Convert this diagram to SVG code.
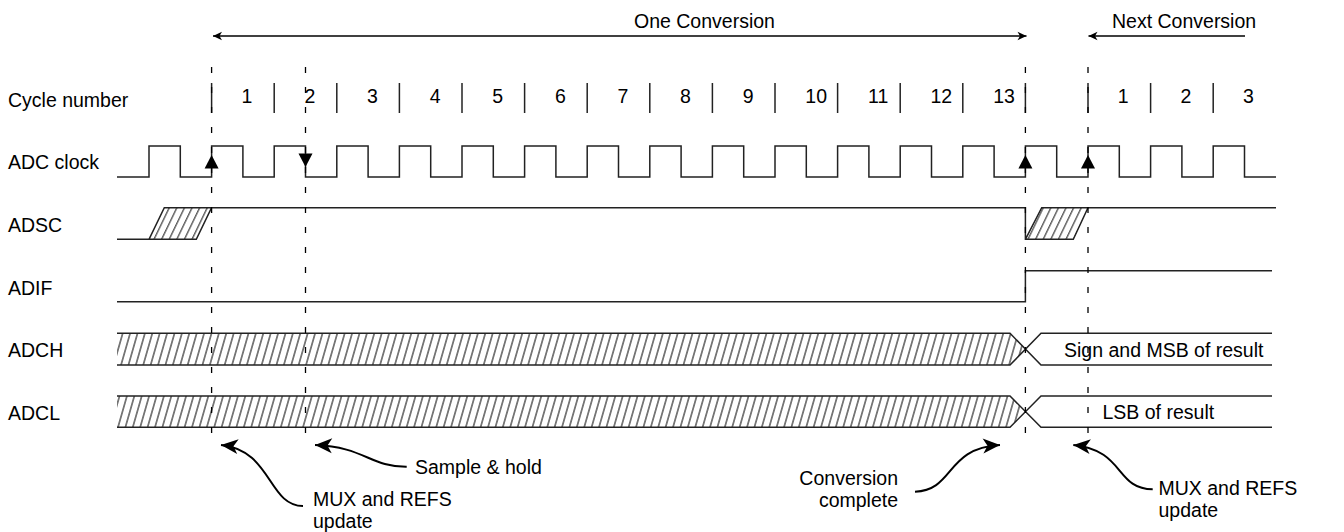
<svg xmlns="http://www.w3.org/2000/svg" width="1344" height="532" viewBox="0 0 1344 532">
<style>
text{font-family:"Liberation Sans",Arial,sans-serif;font-size:19.5px;fill:#000}
.w{fill:none;stroke:#222;stroke-width:1.5}
.sep{stroke:#222;stroke-width:1.5}
.dash{stroke:#000;stroke-width:1.3;stroke-dasharray:6 14;fill:none}
.arr{fill:none;stroke:#000;stroke-width:1.3}
.carr{fill:none;stroke:#000;stroke-width:2}
.tri{fill:#000}
</style>
<defs>
<marker id="sa" markerUnits="userSpaceOnUse" markerWidth="12" markerHeight="12" viewBox="-10 -6 12 12" refX="0" refY="0" orient="auto-start-reverse">
<path d="M0,0 L-9,-4.2 L-6.5,0 L-9,4.2 Z" fill="#000"/>
</marker>
<marker id="ba" markerUnits="userSpaceOnUse" markerWidth="22" markerHeight="22" viewBox="-19 -10 22 20" refX="0" refY="0" orient="auto">
<path d="M0,0 L-17,-7.5 L-12.5,0 L-17,7.5 Z" fill="#000"/>
</marker>
<pattern id="hb" patternUnits="userSpaceOnUse" width="7.4" height="10" patternTransform="skewX(-16)">
<rect x="3.2" y="0" width="1" height="10" fill="#000"/>
</pattern>
<pattern id="hp" patternUnits="userSpaceOnUse" width="7.6" height="10" patternTransform="skewX(-25.8)">
<rect x="3.2" y="0" width="1" height="10" fill="#000"/>
</pattern>
</defs>

<g id="labels">
<text x="8" y="107.3">Cycle number</text>
<text x="8" y="169.3">ADC clock</text>
<text x="8" y="232.3">ADSC</text>
<text x="8" y="295">ADIF</text>
<text x="8" y="357.3">ADCH</text>
<text x="8" y="420">ADCL</text>
</g>

<g id="conversion-span">
<line class="arr" x1="213" y1="36" x2="1026.5" y2="36" marker-start="url(#sa)" marker-end="url(#sa)"/>
<text x="634" y="28">One Conversion</text>
<line class="arr" x1="1245" y1="36" x2="1088.5" y2="36" marker-end="url(#sa)"/>
<text x="1112" y="28">Next Conversion</text>
</g>

<g id="cycle-numbers">
<g class="sep">
<line x1="211.6" y1="83" x2="211.6" y2="113"/>
<line x1="274.2" y1="83" x2="274.2" y2="113"/>
<line x1="336.8" y1="83" x2="336.8" y2="113"/>
<line x1="399.4" y1="83" x2="399.4" y2="113"/>
<line x1="462" y1="83" x2="462" y2="113"/>
<line x1="524.6" y1="83" x2="524.6" y2="113"/>
<line x1="587.2" y1="83" x2="587.2" y2="113"/>
<line x1="649.8" y1="83" x2="649.8" y2="113"/>
<line x1="712.4" y1="83" x2="712.4" y2="113"/>
<line x1="775" y1="83" x2="775" y2="113"/>
<line x1="837.6" y1="83" x2="837.6" y2="113"/>
<line x1="900.2" y1="83" x2="900.2" y2="113"/>
<line x1="962.8" y1="83" x2="962.8" y2="113"/>
<line x1="1025.4" y1="83" x2="1025.4" y2="113"/>
<line x1="1088" y1="83" x2="1088" y2="113"/>
<line x1="1150.6" y1="83" x2="1150.6" y2="113"/>
<line x1="1213.2" y1="83" x2="1213.2" y2="113"/>
</g>
<text x="241.5" y="103">1</text>
<text x="304.5" y="103">2</text>
<text x="367" y="103">3</text>
<text x="429.7" y="103">4</text>
<text x="492.3" y="103">5</text>
<text x="555" y="103">6</text>
<text x="617.5" y="103">7</text>
<text x="680" y="103">8</text>
<text x="742.7" y="103">9</text>
<text x="805.3" y="103">10</text>
<text x="868" y="103">11</text>
<text x="930.5" y="103">12</text>
<text x="993.2" y="103">13</text>
<text x="1117.8" y="103">1</text>
<text x="1180.5" y="103">2</text>
<text x="1243" y="103">3</text>
</g>

<g id="adc-clock">
<path class="w" d="M117,177 H149 V146 H180.3 V177 H211.6 V146 H242.9 V177 H274.2 V146 H305.5 V177 H336.8 V146 H368.1 V177 H399.4 V146 H430.7 V177 H462 V146 H493.3 V177 H524.6 V146 H555.9 V177 H587.2 V146 H618.5 V177 H649.8 V146 H681.1 V177 H712.4 V146 H743.7 V177 H775 V146 H806.3 V177 H837.6 V146 H868.9 V177 H900.2 V146 H931.5 V177 H962.8 V146 H994.1 V177 H1025.4 V146 H1056.7 V177 H1088 V146 H1119.3 V177 H1150.6 V146 H1181.9 V177 H1213.2 V146 H1244.5 V177 H1276"/>
<polygon class="tri" points="211.6,155 204.6,168.5 218.6,168.5"/>
<polygon class="tri" points="298.5,153.5 312.5,153.5 305.5,167"/>
<polygon class="tri" points="1025.4,155 1018.4,168.5 1032.4,168.5"/>
<polygon class="tri" points="1088,155 1081,168.5 1095,168.5"/>
</g>

<g id="adsc">
<polygon points="149,239.3 164.3,207.7 211.6,207.7 196.3,239.3" fill="url(#hp)"/>
<polygon points="1025.4,239.3 1041.7,207.7 1088,207.7 1073.3,239.3" fill="url(#hp)"/>
<path class="w" d="M117,239.3 H196.3 L211.6,207.7 M149,239.3 L164.3,207.7 H1025.4 V239.3 H1073.3 L1088,207.7 H1276 M1025.4,239.3 L1041.7,207.7 H1088"/>
</g>

<g id="adif">
<path class="w" d="M117,301.7 H1025.4 V270.7 H1272"/>
</g>

<g id="adch">
<polygon points="117,333.3 1010,333.3 1025.5,349.2 1010,365 117,365" fill="url(#hb)"/>
<path class="w" d="M117,333.3 H1010 L1041,365 H1272 M117,365 H1010 L1041,333.3 H1272"/>
<text x="1064" y="357">Sign and MSB of result</text>
</g>

<g id="adcl">
<polygon points="117,396 1010,396 1025.5,411.7 1010,427.3 117,427.3" fill="url(#hb)"/>
<path class="w" d="M117,396 H1010 L1041,427.3 H1272 M117,427.3 H1010 L1041,396 H1272"/>
<text x="1102.5" y="419.3">LSB of result</text>
</g>

<g id="guides">
<line class="dash" x1="211.6" y1="67" x2="211.6" y2="434"/>
<line class="dash" x1="305.5" y1="67" x2="305.5" y2="434"/>
<line class="dash" x1="1025.4" y1="67" x2="1025.4" y2="434"/>
<line class="dash" x1="1088" y1="67" x2="1088" y2="434"/>
</g>

<g id="connectors">
<path class="carr" d="M303,506 C268,506 272,450 221,445" marker-end="url(#ba)"/>
<path class="carr" d="M406.7,466.7 C370,467 365,447 315,445" marker-end="url(#ba)"/>
<path class="carr" d="M915,491.7 C955,490 945,448 1000,445" marker-end="url(#ba)"/>
<path class="carr" d="M1152.7,489.3 C1115,489 1125,450 1073.3,445" marker-end="url(#ba)"/>
</g>

<g id="annotations">
<text x="313" y="506">MUX and REFS</text>
<text x="313" y="528">update</text>
<text x="415" y="474">Sample &amp; hold</text>
<text x="898" y="485" text-anchor="end">Conversion</text>
<text x="898" y="507" text-anchor="end">complete</text>
<text x="1158.5" y="495">MUX and REFS</text>
<text x="1158.5" y="517">update</text>
</g>
</svg>
